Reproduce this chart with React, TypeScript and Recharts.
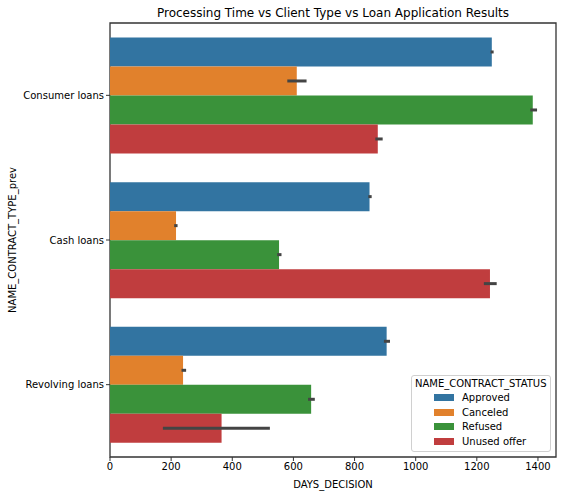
import React from "react";
import {
  BarChart,
  Bar,
  XAxis,
  YAxis,
  ErrorBar,
  ReferenceArea,
} from "recharts";

// ─── Data ────────────────────────────────────────────────────────────────────

const contractTypes = ["Consumer loans", "Cash loans", "Revolving loans"];
const statuses = ["Approved", "Canceled", "Refused", "Unused offer"];
const statusColors = ["#3274a1", "#e1812c", "#3a923a", "#c03d3e"];

// mean DAYS_DECISION per status, ordered as contractTypes
const approved = [1249, 849, 905];
const canceled = [611, 216, 239];
const refused = [1383, 553, 658];
const unusedOffer = [876, 1243, 365];

// confidence interval [low, high] per status, ordered as contractTypes
const approvedCi = [[1245, 1255], [845, 856], [896, 916]];
const canceledCi = [[580, 643], [210, 221], [234, 249]];
const refusedCi = [[1375, 1397], [547, 561], [648, 670]];
const unusedOfferCi = [[868, 892], [1223, 1265], [173, 523]];

const xTicks = [0, 200, 400, 600, 800, 1000, 1200, 1400];

const seriesValues = [approved, canceled, refused, unusedOffer];
const seriesCi = [approvedCi, canceledCi, refusedCi, unusedOfferCi];

const data = contractTypes.map((type, i) => {
  const row: Record<string, unknown> = { type };
  seriesValues.forEach((vals, s) => {
    const v = vals[i];
    const [lo, hi] = seriesCi[s][i];
    row[`s${s}`] = v;
    row[`e${s}`] = [v - lo, hi - v];
  });
  return row;
});

const FONT = "DejaVu Sans, sans-serif";

// ─── Legend ──────────────────────────────────────────────────────────────────

function StatusLegend() {
  return (
    <div
      style={{
        position: "absolute",
        left: 411,
        top: 375,
        width: 140,
        height: 77,
        border: "1px solid #d0d0d0",
        borderRadius: 3,
        background: "rgba(255,255,255,0.85)",
        fontFamily: FONT,
        fontSize: 10,
        color: "#000",
        boxSizing: "border-box",
      }}
    >
      <div style={{ position: "absolute", left: 3, top: 2, whiteSpace: "nowrap" }}>
        NAME_CONTRACT_STATUS
      </div>
      {statuses.map((s, i) => (
        <div
          key={s}
          style={{ position: "absolute", left: 22, top: 16 + i * 14.7, display: "flex", alignItems: "center" }}
        >
          <span style={{ display: "inline-block", width: 20, height: 7, background: statusColors[i] }} />
          <span style={{ marginLeft: 8, whiteSpace: "nowrap" }}>{s}</span>
        </div>
      ))}
    </div>
  );
}

// ─── Main ────────────────────────────────────────────────────────────────────

export default function App() {
  return (
    <div style={{ position: "absolute", left: 0, top: 0, width: 563, height: 497, background: "#fff" }}>
      <div
        style={{
          position: "absolute",
          left: 110,
          width: 446,
          top: 6,
          textAlign: "center",
          fontFamily: FONT,
          fontSize: 12,
          color: "#000",
        }}
      >
        Processing Time vs Client Type vs Loan Application Results
      </div>
      <BarChart
        width={563}
        height={497}
        data={data}
        layout="vertical"
        margin={{ top: 23, right: 7, bottom: 0, left: 0 }}
        barCategoryGap="10%"
        barGap={0}
      >
        <XAxis
          type="number"
          domain={[0, 1459]}
          ticks={xTicks}
          allowDataOverflow
          height={40}
          tickLine={{ stroke: "#333" }}
          tickSize={4}
          axisLine={false}
          tick={{ fontSize: 10, fill: "#000", fontFamily: FONT }}
          label={{
            value: "DAYS_DECISION",
            position: "insideBottom",
            offset: 9,
            style: { fontSize: 10, fill: "#000", fontFamily: FONT },
          }}
        />
        <YAxis
          type="category"
          dataKey="type"
          width={110}
          tickLine={{ stroke: "#333" }}
          tickSize={4}
          axisLine={false}
          tick={{ fontSize: 10, fill: "#000", fontFamily: FONT }}
          label={{
            value: "NAME_CONTRACT_TYPE_prev",
            angle: -90,
            position: "insideLeft",
            offset: 12,
            style: { fontSize: 10, fill: "#000", fontFamily: FONT, textAnchor: "middle" },
          }}
        />
        {statuses.map((s, i) => (
          <Bar key={s} dataKey={`s${i}`} name={s} fill={statusColors[i]} isAnimationActive={false}>
            <ErrorBar
              dataKey={`e${i}`}
              direction="x"
              width={0}
              stroke="#444"
              strokeWidth={3}
              isAnimationActive={false}
            />
          </Bar>
        ))}
        <ReferenceArea x1={0} x2={1459} fill="none" fillOpacity={0} stroke="#333" strokeWidth={1.3} ifOverflow="visible" />
      </BarChart>
      <StatusLegend />
    </div>
  );
}
